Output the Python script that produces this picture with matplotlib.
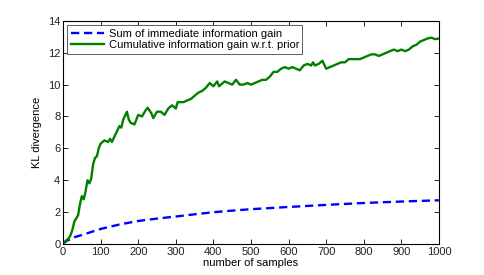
import numpy as np
import matplotlib
matplotlib.use('Agg')
import matplotlib.pyplot as plt

plt.rcParams['font.family'] = ['Liberation Sans', 'DejaVu Sans']

# cumulative information gain w.r.t. prior
cum_x = [0, 5, 10, 15, 20, 25, 30, 35, 40, 45, 50, 55, 60, 65, 70, 75, 80, 85, 90, 95,
         100, 110, 120, 125, 130, 140, 150, 155, 160, 170, 175, 180, 190, 200, 210, 220,
         225, 235, 240, 250, 260, 270, 280, 290, 300, 305, 320, 330, 340, 350, 360, 370,
         380, 390, 400, 410, 415, 420, 430, 440, 450, 460, 470, 480, 490, 500, 510, 520,
         530, 540, 550, 560, 570, 580, 590, 600, 610, 620, 630, 640, 650, 660, 665, 670,
         680, 690, 700, 710, 720, 730, 740, 750, 760, 770, 780, 790, 800, 810, 820, 830,
         840, 850, 860, 870, 880, 890, 900, 910, 920, 930, 940, 950, 960, 970, 980, 990, 1000]
cum_y = [0.0, 0.15, 0.25, 0.35, 0.55, 0.9, 1.4, 1.6, 1.8, 2.5, 3.0, 2.8, 3.3, 4.0, 3.8, 4.1,
         5.0, 5.4, 5.5, 6.0, 6.3, 6.5, 6.4, 6.6, 6.4, 6.9, 7.4, 7.3, 7.8, 8.3, 7.8, 7.6, 7.5,
         8.1, 8.0, 8.4, 8.55, 8.2, 7.9, 8.3, 8.3, 8.1, 8.5, 8.7, 8.5, 8.9, 8.9, 9.0, 9.1, 9.3,
         9.5, 9.6, 9.8, 10.1, 9.9, 10.2, 9.9, 10.0, 10.2, 10.1, 10.0, 10.3, 10.0, 10.0, 10.1,
         10.0, 10.1, 10.2, 10.3, 10.3, 10.5, 10.8, 10.8, 11.0, 11.1, 11.0, 11.1, 11.0, 10.9,
         11.2, 11.3, 11.2, 11.4, 11.2, 11.3, 11.5, 11.0, 11.1, 11.2, 11.3, 11.4, 11.4, 11.6,
         11.6, 11.6, 11.6, 11.7, 11.8, 11.9, 11.9, 11.8, 11.9, 12.0, 12.1, 12.2, 12.1, 12.2,
         12.1, 12.2, 12.4, 12.5, 12.7, 12.8, 12.9, 12.95, 12.85, 12.9]

# sum of immediate information gain
sum_x = [0, 10, 20, 30, 50, 75, 100, 150, 200, 250, 300, 350, 400, 450, 500,
         600, 700, 800, 900, 1000]
sum_y = [0.0, 0.2, 0.3, 0.42, 0.56, 0.75, 0.94, 1.22, 1.44, 1.59, 1.72, 1.86, 1.99,
         2.09, 2.18, 2.32, 2.45, 2.57, 2.66, 2.74]

fig = plt.figure(figsize=(4.85, 2.75), dpi=100)
ax = fig.add_axes([0.130, 0.113, 0.775, 0.811])

ax.plot(sum_x, sum_y, color='#0000ff', lw=1.7, dashes=(3.5, 2),
        label='Sum of immediate information gain')
ax.plot(cum_x, cum_y, color='#008000', lw=1.7,
        label='Cumulative information gain w.r.t. prior')

ax.set_xlim(0, 1000)
ax.set_ylim(0, 14)
ax.set_xticks(np.arange(0, 1001, 100))
ax.set_yticks(np.arange(0, 15, 2))
ax.tick_params(direction='in', top=True, right=True, length=3.5, width=0.6,
               labelsize=8, pad=2, labelcolor='#222222')
for s in ax.spines.values():
    s.set_linewidth(0.8)

ax.set_xlabel('number of samples', fontsize=8, labelpad=1)
ax.set_ylabel('KL divergence', fontsize=8, labelpad=4)

leg = ax.legend(loc='upper left', fontsize=8, fancybox=False, framealpha=1,
                edgecolor='#444444', borderpad=0.3, labelspacing=0.15,
                handlelength=3.0, borderaxespad=0.4, handletextpad=0.4)
leg.get_frame().set_linewidth(0.6)

fig.savefig('out.png', dpi=100)
